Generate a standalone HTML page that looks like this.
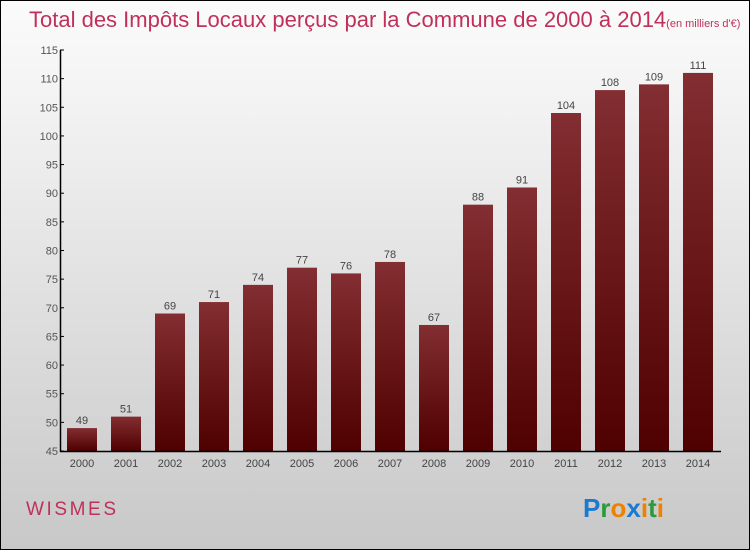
<!DOCTYPE html>
<html><head><meta charset="utf-8"><style>
body{margin:0}
#c{width:748px;height:548px;border:1px solid #000;background:linear-gradient(#fbfbfb,#f2f2f2 20%,#c8c8c8);position:relative;font-family:"Liberation Sans",sans-serif;overflow:hidden}
</style></head><body>
<div id="c">
<svg width="748" height="548" id="svg">
<defs><linearGradient id="g" x1="0" y1="0" x2="0" y2="1"><stop offset="0" stop-color="#832e32"/><stop offset="1" stop-color="#4f0000"/></linearGradient></defs>
<text x="28" y="26" font-size="22" fill="#c0305a">Total des Impôts Locaux perçus par la Commune de 2000 à 2014<tspan font-size="11">(en milliers d'€)</tspan></text>
<text x="25" y="514" font-size="19" fill="#c0305a" textLength="90">WISMES</text>
<text x="582" y="516" font-size="26" font-weight="bold"><tspan fill="#1a7ad0">P</tspan><tspan fill="#2a9a3a">r</tspan><tspan fill="#f08000">o</tspan><tspan fill="#1a7ad0">x</tspan><tspan fill="#f08000">i</tspan><tspan fill="#2a9a3a">t</tspan><tspan fill="#f08000">i</tspan></text>
<g id="plot"></g>
</svg></div>
<script>
const years=["2000","2001","2002","2003","2004","2005","2006","2007","2008","2009","2010","2011","2012","2013","2014"];
const values=[49,51,69,71,74,77,76,78,67,88,91,104,108,109,111];
const yTicks=[45,50,55,60,65,70,75,80,85,90,95,100,105,110,115];
const NS="http://www.w3.org/2000/svg";
const g=document.getElementById('plot');
const y=v=>450-(v-45)*(401/70);
const x=i=>81+i*44;
function mk(t,a){const e=document.createElementNS(NS,t);for(const k in a)e.setAttribute(k,a[k]);g.appendChild(e);return e;}
yTicks.forEach(t=>{
 const l=mk('line',{x1:59,x2:63,y1:y(t),y2:y(t),stroke:'#000'});
 
 
 const tx=mk('text',{x:57,y:y(t)+4,'font-size':11,fill:'#555','text-anchor':'end'});
 tx.textContent=t;
 
 
});
values.forEach((v,i)=>{
 const b=mk('rect',{x:x(i)-15,y:y(v),width:30,height:450-y(v),fill:'url(#g)'});
 
 
 const vl=mk('text',{x:x(i),y:y(v)-4,'font-size':11,fill:'#444','text-anchor':'middle'});
 vl.textContent=v;
 
 
 const xl=mk('text',{x:x(i),y:466,'font-size':11,fill:'#444','text-anchor':'middle'});
 xl.textContent=years[i];
 
 
});
const ya=mk('line',{x1:59.5,x2:59.5,y1:y(115),y2:451,stroke:'#000','stroke-width':1.5});


const xa=mk('line',{x1:59,x2:720,y1:450.5,y2:450.5,stroke:'#000','stroke-width':1.5});


</script>
</body></html>
